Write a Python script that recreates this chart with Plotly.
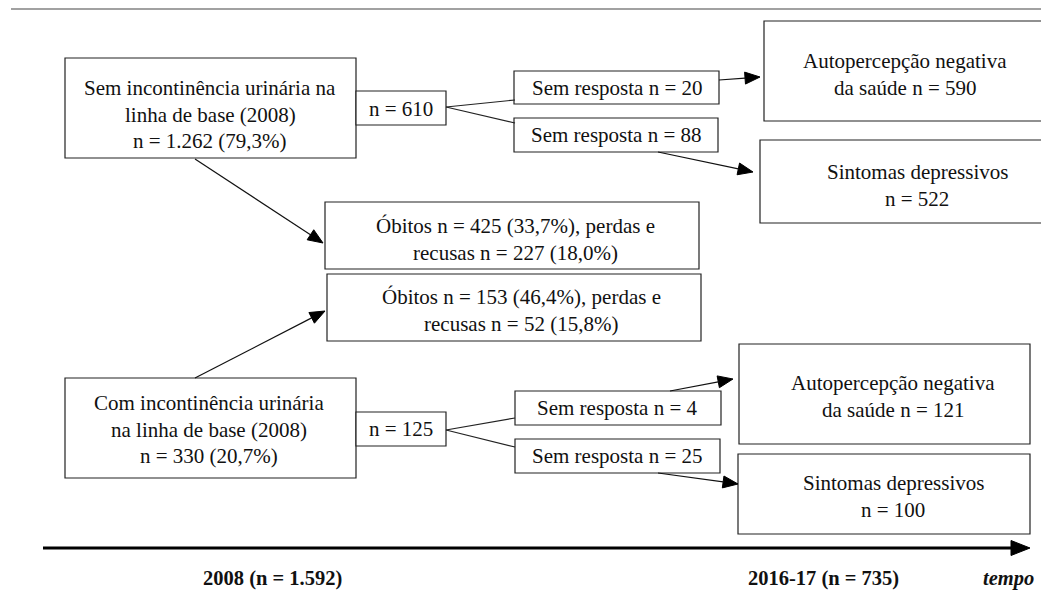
import numpy as np
import plotly.graph_objects as go

W, H = 1041, 590

# ---- content (text of the flow chart) ----
box_labels = [
    "Sem incontinência urinária na<br>linha de base (2008)<br>n = 1.262 (79,3%)",
    "n = 610",
    "Sem resposta n = 20",
    "Sem resposta n = 88",
    "Autopercepção negativa<br>da saúde n = 590",
    "Sintomas depressivos<br>n = 522",
    "Óbitos n = 425 (33,7%), perdas e<br>recusas n = 227 (18,0%)",
    "Óbitos n = 153 (46,4%), perdas e<br>recusas n = 52 (15,8%)",
    "Com incontinência urinária<br>na linha de base (2008)<br>n = 330 (20,7%)",
    "n = 125",
    "Sem resposta n = 4",
    "Sem resposta n = 25",
    "Autopercepção negativa<br>da saúde n = 121",
    "Sintomas depressivos<br>n = 100",
]
time_labels = ["2008 (n = 1.592)", "2016-17 (n = 735)"]
time_word = "tempo"

# ---- layout geometry (pixels: x0, y0, x1, y1) ----
box_rects = [
    (65, 58, 356, 158),
    (356, 91, 446, 125),
    (514, 71, 719, 104),
    (514, 118, 718, 152),
    (764, 21, 1045, 121),
    (760, 140, 1045, 223),
    (325, 202, 699, 269),
    (327, 274, 701, 341),
    (65, 378, 356, 478),
    (356, 412, 446, 446),
    (515, 391, 721, 425),
    (515, 439, 720, 473),
    (739, 344, 1030, 444),
    (738, 454, 1030, 534),
]
# centre x, first-line y of each box text
text_pos = [
    (210, 88), (401, 109), (617, 88), (616, 135), (905, 61), (917, 172),
    (515, 226), (521, 297), (209, 403), (401, 429), (617, 408), (617, 456),
    (893, 383), (893, 483),
]
LINE_STEP = 26.7
plain_lines = [
    ((446, 107), (515, 100)), ((446, 107), (515, 123)),
    ((446, 430), (515, 418)), ((446, 430), (515, 447)),
]
arrows = [
    ((719, 80), (760, 77)),
    ((658, 152), (753, 172)),
    ((195, 159), (323, 243)),
    ((195, 378), (325, 311)),
    ((670, 391), (733, 379)),
    ((658, 473), (738, 484)),
]

FONT = "Liberation Serif"
fig = go.Figure()
shapes = []
annotations = []

# top rule
shapes.append(dict(type="line", x0=11, y0=9, x1=W + 5, y1=9,
                   line=dict(color="#444444", width=1.2)))

for (x0, y0, x1, y1) in box_rects:
    shapes.append(dict(type="rect", x0=x0, y0=y0, x1=x1, y1=y1,
                       line=dict(color="#222222", width=1.2),
                       fillcolor="white"))

for (p, q) in plain_lines:
    shapes.append(dict(type="line", x0=p[0], y0=p[1], x1=q[0], y1=q[1],
                       line=dict(color="#222222", width=1.2)))


def head_path(p, q, length=15, half=6):
    p = np.array(p, float)
    q = np.array(q, float)
    d = (q - p) / np.linalg.norm(q - p)
    n = np.array([-d[1], d[0]])
    b = q - d * length
    a1 = b + n * half
    a2 = b - n * half
    return f"M {q[0]},{q[1]} L {a1[0]},{a1[1]} L {a2[0]},{a2[1]} Z", b


for (p, q) in arrows:
    path, b = head_path(p, q)
    shapes.append(dict(type="line", x0=p[0], y0=p[1], x1=b[0], y1=b[1],
                       line=dict(color="#111111", width=1.2)))
    shapes.append(dict(type="path", path=path, fillcolor="#000000",
                       line=dict(color="#000000", width=1)))

# timeline
tp, tq = (43, 548), (1030, 548)
path, b = head_path(tp, tq, length=19, half=7.5)
shapes.append(dict(type="line", x0=tp[0], y0=tp[1], x1=b[0], y1=b[1],
                   line=dict(color="#000000", width=3)))
shapes.append(dict(type="path", path=path, fillcolor="#000000",
                   line=dict(color="#000000", width=1)))

for lab, (x, y) in zip(box_labels, text_pos):
    for i, line in enumerate(lab.split("<br>")):
        annotations.append(dict(x=x, y=y + i * LINE_STEP, text=line, showarrow=False,
                                xanchor="center", yanchor="middle",
                                font=dict(family=FONT, size=21, color="#111111")))

for lab, x in zip(time_labels, [272, 823]):
    annotations.append(dict(x=x, y=578, text="<b>" + lab + "</b>", showarrow=False,
                            xanchor="center", yanchor="middle",
                            font=dict(family=FONT, size=20.5, color="#111111")))
annotations.append(dict(x=1036, y=578, text="<b><i>" + time_word + "</i></b>",
                        showarrow=False, xanchor="right", yanchor="middle",
                        font=dict(family=FONT, size=20.5, color="#111111")))

fig.update_layout(
    width=W, height=H,
    margin=dict(l=0, r=0, t=0, b=0),
    paper_bgcolor="white", plot_bgcolor="white",
    xaxis=dict(range=[0, W], visible=False, fixedrange=True),
    yaxis=dict(range=[H, 0], visible=False, fixedrange=True),
    shapes=shapes, annotations=annotations, showlegend=False,
)
fig.write_html("out.html", config={"displayModeBar": False},
               post_script="document.body.style.margin='0px';document.body.style.overflow='hidden';")
